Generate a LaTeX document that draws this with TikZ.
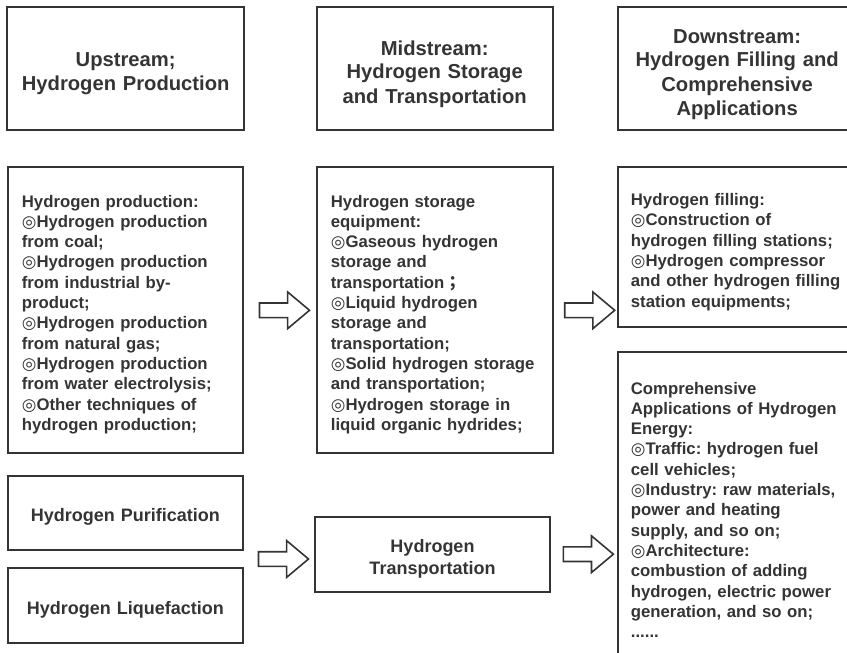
\documentclass[tikz,border=0pt]{standalone}
\usepackage{fontspec}
\setmainfont{Liberation Sans}
\newfontfamily\symfnt{DejaVu Sans}
\newfontfamily\cjkfnt{Noto Sans CJK TC}
\usetikzlibrary{shapes.arrows,calc}
\definecolor{ink}{RGB}{52,52,52}
\frenchspacing
% bullet mark used in the lists
\newcommand\dcirc{{\symfnt ◎}}
\tikzset{
  box/.style={draw=ink, line width=2pt, rectangle, inner sep=0pt},
  headtext/.style={text=ink, font=\bfseries\fontsize{20.2}{24}\selectfont,
    align=center, text width=232pt, inner sep=0pt, anchor=base},
  listtext/.style={text=ink, font=\bfseries\fontsize{16.75}{20.3}\selectfont,
    align=left, text width=232pt, inner sep=0pt, anchor=base west},
  labtext/.style={text=ink, font=\bfseries\fontsize{18}{21.7}\selectfont,
    align=center, text width=225pt, inner sep=0pt, anchor=base},
  blockarrow/.style={draw=ink, fill=white, line width=1.6pt, shape=single arrow,
    single arrow head extend=11pt, single arrow tip angle=80,
    inner xsep=0pt, inner ysep=6.5pt, minimum height=50pt, line join=miter}
}
\begin{document}
\begin{tikzpicture}[x=1pt,y=-1pt]
\useasboundingbox (0,0) rectangle (847,653);

% column headers
\node[box, minimum width=237.3pt, minimum height=122.7pt] (uphead)   at (125.65,68.65) {};
\node[box, minimum width=236pt,   minimum height=122.7pt] (midhead)  at (434.7,68.65) {};
\node[box, minimum width=237.7pt, minimum height=122.7pt] (downhead) at (737.15,68.65) {};
\node[headtext] (uptitle) at (125.65,66.7) {Upstream;\\Hydrogen Production};
\node[headtext] (midtitle) at (434.7,55) {Midstream:\\Hydrogen Storage\\and Transportation};
\node[headtext] (downtitle) at (737.15,43) {Downstream:\\Hydrogen Filling and\\Comprehensive\\Applications};

% content boxes
\node[box, minimum width=235.8pt, minimum height=286pt]   (prod)  at (125.4,310.3) {};
\node[box, minimum width=235.7pt, minimum height=286pt]   (store) at (434.85,310.3) {};
\node[box, minimum width=238pt,   minimum height=159.4pt] (fill)  at (737,247) {};
\node[box, minimum width=238pt,   minimum height=318.5pt] (comp)  at (737,510.75) {};
\node[box, minimum width=235.8pt, minimum height=74.3pt]  (purif) at (125.4,512.85) {};
\node[box, minimum width=235.8pt, minimum height=74.7pt]  (liq)   at (125.4,605.35) {};
\node[box, minimum width=235pt,   minimum height=75pt]    (trans) at (432.5,554.2) {};

\node[listtext] (prodtext) at (21.7,207) {Hydrogen production:\\
\dcirc Hydrogen production\\
from coal;\\
\dcirc Hydrogen production\\
from industrial by-\\
product;\\
\dcirc Hydrogen production\\
from natural gas;\\
\dcirc Hydrogen production\\
from water electrolysis;\\
\dcirc Other techniques of\\
hydrogen production;};

\node[listtext] (storetext) at (330.7,207) {Hydrogen storage\\
equipment:\\
\dcirc Gaseous hydrogen\\
storage and\\
transportation{\cjkfnt ；}\\
\dcirc Liquid hydrogen\\
storage and\\
transportation;\\
\dcirc Solid hydrogen storage\\
and transportation;\\
\dcirc Hydrogen storage in\\
liquid organic hydrides;};

\node[listtext] (filltext) at (630.7,205.5) {Hydrogen filling:\\
\dcirc Construction of\\
hydrogen filling stations;\\
\dcirc Hydrogen compressor\\
and other hydrogen filling\\
station equipments;};

\node[listtext] (comptext) at (630.7,394) {Comprehensive\\
Applications of Hydrogen\\
Energy:\\
\dcirc Traffic: hydrogen fuel\\
cell vehicles;\\
\dcirc Industry: raw materials,\\
power and heating\\
supply, and so on;\\
\dcirc Architecture:\\
combustion of adding\\
hydrogen, electric power\\
generation, and so on;\\
......};

\node[labtext] (puriftext) at (125.4,521.7) {Hydrogen Purification};
\node[labtext] (liqtext)   at (125.4,614)   {Hydrogen Liquefaction};
\node[labtext] (transtext) at (432.5,552.3) {Hydrogen\\Transportation};

% block arrows between the stages
\coordinate (lowgap) at ($(purif.south east)!0.5!(liq.north east)$);
\node[blockarrow] (arr1) at ($(prod.east)!0.5!(store.west)$) {};
\node[blockarrow] (arr2) at ($(store.east)!0.5!(store.east -| fill.west)$) {};
\node[blockarrow] (arr3) at ($(lowgap)!0.5!(lowgap -| trans.west)$) {};
\node[blockarrow] (arr4) at ($(trans.east)!0.5!(trans.east -| comp.west)$) {};
\end{tikzpicture}
\end{document}
